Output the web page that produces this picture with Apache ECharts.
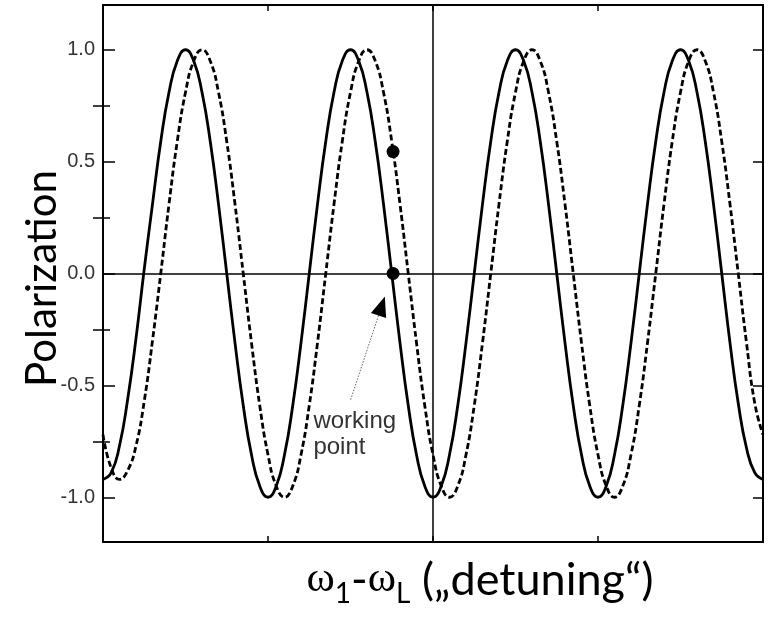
<!DOCTYPE html>
<html><head><meta charset="utf-8">
<script src="https://cdn.jsdelivr.net/npm/echarts@6/dist/echarts.min.js"></script>
<style>html,body{margin:0;padding:0;background:#fff}#c{width:769px;height:619px}</style>
</head><body><div id="c"></div>
<script>
// detuning (x) values
const detuning = [
  0.00,0.05,0.10,0.15,0.20,0.25,0.30,0.35,0.40,0.45,0.50,0.55,0.60,0.65,0.70,0.75,0.80,0.85,0.90,0.95,
  1.00,1.05,1.10,1.15,1.20,1.25,1.30,1.35,1.40,1.45,1.50,1.55,1.60,1.65,1.70,1.75,1.80,1.85,1.90,1.95,
  2.00,2.05,2.10,2.15,2.20,2.25,2.30,2.35,2.40,2.45,2.50,2.55,2.60,2.65,2.70,2.75,2.80,2.85,2.90,2.95,
  3.00,3.05,3.10,3.15,3.20,3.25,3.30,3.35,3.40,3.45,3.50,3.55,3.60,3.65,3.70,3.75,3.80,3.85,3.90,3.95,
  4.00
];
// solid curve (polarization)
const solidSignal = [
  -0.92,-0.89,-0.77,-0.56,-0.29,0.02,0.31,0.59,0.81,0.95,1.00,0.95,0.81,0.59,0.31,0.00,-0.31,-0.59,-0.81,-0.95,
  -1.00,-0.95,-0.81,-0.59,-0.31,0.00,0.31,0.59,0.81,0.95,1.00,0.95,0.81,0.59,0.31,0.00,-0.31,-0.59,-0.81,-0.95,
  -1.00,-0.95,-0.81,-0.59,-0.31,0.00,0.31,0.59,0.81,0.95,1.00,0.95,0.81,0.59,0.31,0.00,-0.31,-0.59,-0.81,-0.95,
  -1.00,-0.95,-0.81,-0.59,-0.31,0.00,0.31,0.59,0.81,0.95,1.00,0.95,0.81,0.59,0.31,0.00,-0.31,-0.58,-0.78,-0.89,
  -0.92
];
// dashed curve (shifted polarization)
const dashedSignal = [
  -0.72,-0.87,-0.92,-0.88,-0.77,-0.57,-0.30,0.00,0.31,0.59,0.81,0.95,1.00,0.95,0.81,0.59,0.31,0.00,-0.31,-0.59,
  -0.81,-0.95,-1.00,-0.95,-0.81,-0.59,-0.31,0.00,0.31,0.59,0.81,0.95,1.00,0.95,0.81,0.59,0.31,0.00,-0.31,-0.59,
  -0.81,-0.95,-1.00,-0.95,-0.81,-0.59,-0.31,0.00,0.31,0.59,0.81,0.95,1.00,0.95,0.81,0.59,0.31,0.00,-0.31,-0.59,
  -0.81,-0.95,-1.00,-0.95,-0.81,-0.59,-0.31,0.00,0.31,0.59,0.81,0.95,1.00,0.95,0.81,0.59,0.31,0.00,-0.31,-0.58,
  -0.72
];
// working point markers
const workingPointX = [1.758, 1.758];
const workingPointY = [0.545, 0.0];
// annotation
const arrowStart = [1.501, -0.564];
const arrowBase = [1.670, -0.187];
const arrowHead = [1.689, -0.145];
const annotationAnchor = [1.275, -0.717];
const annotationText = 'working\npoint';
// ticks
const yTickValues = [-1.0, -0.5, 0.0, 0.5, 1.0];
const yMinorTickValues = [-0.75, -0.25, 0.25, 0.75];
const xTickValues = [1, 2, 3];
const xRange = [0, 4];
const yRange = [-1.2, 1.2];

const chart = echarts.init(document.getElementById('c'), null, {renderer: 'canvas'});
const solidData = detuning.map((x, i) => [x, solidSignal[i]]);
const dashedData = detuning.map((x, i) => [x, dashedSignal[i]]);
const pointData = workingPointX.map((x, i) => [x, workingPointY[i]]);

const frameLine = {show: true, onZero: false, lineStyle: {color: '#000', width: 2}};
function yAx(pos, ticks, len, extra) {
  return Object.assign({
    type: 'value', position: pos, min: yRange[0], max: yRange[1],
    axisLine: frameLine,
    axisTick: {show: true, inside: true, length: len, customValues: ticks, lineStyle: {color: '#000', width: 1.5}},
    axisLabel: {show: false},
    splitLine: {show: false}
  }, extra || {});
}
function xAx(pos, extra) {
  return Object.assign({
    type: 'value', position: pos, min: xRange[0], max: xRange[1],
    axisLine: frameLine,
    axisTick: {show: true, inside: true, length: 6, customValues: xTickValues, lineStyle: {color: '#000', width: 1.5}},
    axisLabel: {show: false},
    splitLine: {show: false}
  }, extra || {});
}

chart.setOption({
  animation: false,
  backgroundColor: '#fff',
  grid: {left: 103, right: 6, top: 5, bottom: 77, containLabel: false, outerBoundsMode: 'none'},
  xAxis: [
    xAx('bottom', {
      name: '{w|ω}{s|1}{t|-}{w|ω}{s|L}{t| („detuning“)}',
      nameLocation: 'middle',
      nameGap: 10,
      nameMoveOverlap: false,
      nameTextStyle: {
        color: '#000', fontFamily: 'Lato', fontSize: 45, padding: [0, 0, 0, 94],
        rich: {
          w: {fontFamily: 'Liberation Serif', fontSize: 43, color: '#000'},
          s: {fontFamily: 'Lato', fontSize: 28, color: '#000', padding: [28, 0, 0, 0]},
          t: {fontFamily: 'Lato', fontSize: 45, color: '#000'}
        }
      }
    }),
    xAx('top')
  ],
  yAxis: [
    yAx('left', yTickValues, 12, {
      axisLabel: {show: true, customValues: yTickValues, margin: 8, color: '#333',
        fontFamily: 'Liberation Sans', fontSize: 20, formatter: v => v.toFixed(1)},
      name: 'Polarization', nameLocation: 'middle', nameGap: 40, nameRotate: 90,
      nameMoveOverlap: false,
      nameTextStyle: {color: '#000', fontFamily: 'Lato', fontSize: 42, padding: [0, 10, 0, 0]}
    }),
    yAx('left', yMinorTickValues, 7, {axisLine: {show: false}}),
    yAx('right', yTickValues, 10),
    yAx('right', yMinorTickValues, 10, {axisLine: {show: false}})
  ],
  series: [
    {
      type: 'line', data: solidData, xAxisIndex: 0, yAxisIndex: 0,
      showSymbol: false, smooth: true, clip: true,
      lineStyle: {color: '#000', width: 2.8}, z: 3
    },
    {
      type: 'line', data: dashedData, xAxisIndex: 0, yAxisIndex: 0,
      showSymbol: false, smooth: true, clip: true,
      lineStyle: {color: '#000', width: 2.8, type: [6, 3]}, z: 3
    },
    {
      type: 'scatter', data: pointData, xAxisIndex: 0, yAxisIndex: 0,
      symbol: 'circle', symbolSize: 13, itemStyle: {color: '#000', opacity: 1}, z: 5,
      markLine: {
        silent: true, symbol: ['none', 'none'], label: {show: false},
        lineStyle: {color: '#000', width: 1.5, type: 'solid'},
        data: [
          {yAxis: 0},
          {xAxis: 2},
          [{coord: arrowStart, lineStyle: {color: '#666', width: 1, type: [1.5, 1.5]}}, {coord: arrowBase}],
          [{coord: arrowBase, lineStyle: {color: '#000', width: 1}, symbol: 'none'},
           {coord: arrowHead, symbol: 'triangle', symbolSize: [16, 20]}]
        ]
      },
      markPoint: {
        silent: true,
        data: [{
          coord: annotationAnchor, symbol: 'circle', symbolSize: 0,
          label: {show: true, position: 'right', distance: 0, formatter: annotationText,
            color: '#333', fontFamily: 'Liberation Sans', fontSize: 24, lineHeight: 26, align: 'left'}
        }]
      }
    }
  ]
});
</script></body></html>
